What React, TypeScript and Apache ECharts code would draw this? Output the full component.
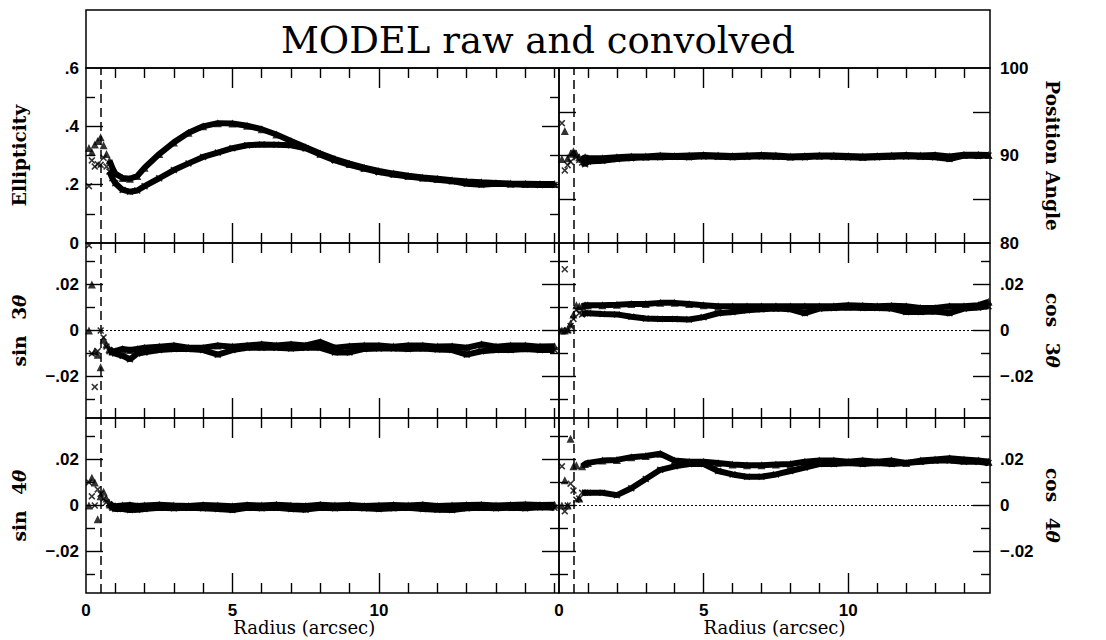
import React, { useEffect, useRef } from "react";
import * as echarts from "echarts";

// Isophote radii (arcsec) for the left and right columns
const RADIUS_LEFT = [
  0.1, 0.2, 0.3, 0.4, 0.5, 0.6, 0.7, 0.8, 0.9, 1.0, 1.25, 1.5, 1.75, 2.0,
  2.5, 3.0, 3.5, 4.0, 4.5, 5.0, 5.5, 6.0, 6.5, 7.0, 7.5, 8.0, 8.5, 9.0, 9.5,
  10.0, 10.5, 11.0, 11.5, 12.0, 12.5, 13.0, 13.5, 14.0, 14.5, 15.0, 15.5, 16.0,
];
const RADIUS_RIGHT = [
  0.1, 0.2, 0.3, 0.4, 0.5, 0.6, 0.7, 0.8, 0.9, 1.0, 1.5, 2.0, 2.5, 3.0, 3.5,
  4.0, 4.5, 5.0, 5.5, 6.0, 6.5, 7.0, 7.5, 8.0, 8.5, 9.0, 9.5, 10.0, 10.5, 11.0,
  11.5, 12.0, 12.5, 13.0, 13.5, 14.0, 14.5, 14.85,
];

// Ellipticity (raw = triangles, convolved = crosses)
const ELL_RAW = [
  0.326, 0.312, 0.338, 0.35, 0.363, 0.335, 0.305, 0.283, 0.258, 0.238, 0.223, 0.22, 0.23, 0.258,
  0.305, 0.345, 0.378, 0.4, 0.411, 0.41, 0.402, 0.39, 0.372, 0.35, 0.328, 0.307, 0.288, 0.272,
  0.258, 0.247, 0.238, 0.231, 0.225, 0.22, 0.215, 0.211, 0.208, 0.206, 0.204, 0.203, 0.202, 0.202,
];
const ELL_CONV = [
  0.195, 0.283, 0.262, 0.27, 0.268, 0.292, 0.262, 0.245, 0.222, 0.205, 0.182, 0.176, 0.18, 0.195,
  0.222, 0.25, 0.273, 0.295, 0.31, 0.325, 0.335, 0.338, 0.337, 0.335, 0.325, 0.303, 0.283, 0.268,
  0.255, 0.243, 0.235, 0.228, 0.222, 0.217, 0.212, 0.203, 0.2, 0.203, 0.201, 0.2, 0.199, 0.199,
];

// Position angle (degrees)
const PA_RAW = [
  89.6, 92.8, 89.7, 90.2, 90.5, 90.2, 89.8, 89.6, 89.8, 89.7, 89.7, 89.8, 89.9, 89.9, 90.0,
  89.95, 90.0, 90.05, 90.0, 89.95, 90.0, 90.05, 90.0, 89.9, 89.95, 90.0, 90.0, 89.95, 89.9,
  89.95, 90.0, 90.05, 90.0, 90.05, 89.9, 90.1, 90.1, 90.05,
];
const PA_CONV = [
  93.7, 88.3, 88.9, 89.3, 90.3, 89.8, 89.5, 89.2, 89.0, 89.3, 89.4, 89.6, 89.7, 89.8, 89.8,
  89.85, 89.8, 89.9, 89.85, 89.8, 89.85, 89.9, 89.85, 89.8, 89.8, 89.9, 89.85, 89.8, 89.75,
  89.8, 89.85, 89.9, 89.85, 89.8, 89.6, 90.0, 89.95, 90.0,
];

// Third-order harmonics
const S3_RAW = [
  0.0, 0.02, -0.009, -0.0105, -0.016, -0.004, -0.006, -0.008, -0.009, -0.009, -0.008, -0.0085,
  -0.008, -0.0075, -0.007, -0.0065, -0.0075, -0.0075, -0.0065, -0.007, -0.0065, -0.006, -0.0065,
  -0.006, -0.0065, -0.005, -0.0075, -0.0068, -0.0065, -0.0065, -0.007, -0.0065, -0.0065, -0.007,
  -0.0068, -0.0075, -0.006, -0.007, -0.0065, -0.0065, -0.007, -0.0068,
];
const S3_CONV = [
  0.037, -0.01, -0.0245, -0.009, 0.0, -0.003, -0.007, -0.009, -0.0095, -0.01, -0.011, -0.0125,
  -0.01, -0.0095, -0.0085, -0.008, -0.008, -0.0085, -0.0105, -0.0085, -0.0075, -0.0075, -0.0075,
  -0.0078, -0.0075, -0.0075, -0.0095, -0.0095, -0.008, -0.0078, -0.0078, -0.008, -0.0078, -0.0082,
  -0.0085, -0.0105, -0.009, -0.0085, -0.0085, -0.008, -0.0085, -0.0085,
];
const C3_RAW = [
  0.0, 0.0, 0.0005, 0.003, 0.007, 0.011, 0.0105, 0.0105, 0.011, 0.011, 0.011, 0.0112, 0.0115,
  0.0115, 0.012, 0.012, 0.0115, 0.011, 0.0105, 0.0105, 0.0105, 0.0105, 0.0105, 0.0105, 0.0105,
  0.0105, 0.0105, 0.011, 0.0108, 0.0105, 0.0108, 0.0105, 0.0098, 0.0098, 0.0105, 0.0105, 0.011,
  0.0125,
];
const C3_CONV = [
  0.0, 0.0266, 0.0, 0.002, 0.005, 0.009, 0.0075, 0.007, 0.0075, 0.0075, 0.0072, 0.007, 0.006,
  0.0052, 0.005, 0.005, 0.0048, 0.0058, 0.0075, 0.008, 0.0088, 0.0092, 0.0095, 0.0092, 0.0075,
  0.0095, 0.0098, 0.01, 0.0098, 0.0098, 0.0095, 0.008, 0.008, 0.0082, 0.0075, 0.0095, 0.01, 0.0105,
];

// Fourth-order harmonics
const S4_RAW = [
  0.0, 0.012, 0.01, -0.006, 0.004, 0.006, 0.003, 0.001, 0.0, -0.0003, 0.0, 0.0002, -0.0002, 0.0,
  0.0003, 0.0, -0.0002, 0.0002, 0.0, -0.0003, 0.0002, 0.0, 0.0003, 0.0, -0.0002, 0.0003, 0.0,
  0.0002, -0.0002, 0.0, 0.0002, 0.0, 0.0003, -0.0002, 0.0, 0.0002, 0.0003, 0.0, 0.0002, 0.0004,
  0.0002, 0.0003,
];
const S4_CONV = [
  0.01, 0.004, 0.0, 0.007, 0.005, 0.003, 0.0015, 0.0, -0.001, -0.0015, -0.0015, -0.002, -0.0018,
  -0.0015, -0.001, -0.0012, -0.001, -0.0012, -0.0015, -0.002, -0.001, -0.0012, -0.001, -0.0015,
  -0.0018, -0.001, -0.0012, -0.001, -0.0012, -0.0015, -0.0012, -0.001, -0.0015, -0.0018, -0.002,
  -0.0012, -0.001, -0.0012, -0.001, -0.0012, -0.0008, -0.001,
];
const C4_RAW = [
  0.0, 0.011, 0.0, 0.029, 0.017, 0.0175, 0.003, 0.017, 0.018, 0.0185, 0.0195, 0.0198, 0.021,
  0.0215, 0.0225, 0.0195, 0.019, 0.019, 0.0185, 0.0178, 0.0175, 0.0175, 0.0178, 0.018, 0.019,
  0.0195, 0.0195, 0.019, 0.0195, 0.019, 0.0195, 0.0185, 0.0195, 0.02, 0.0205, 0.02, 0.0195, 0.019,
];
const C4_CONV = [
  0.017, -0.0025, 0.0, 0.0095, 0.0065, 0.0025, 0.003, 0.0055, 0.0055, 0.0055, 0.0055, 0.0045,
  0.0075, 0.0115, 0.0155, 0.017, 0.018, 0.018, 0.015, 0.0135, 0.0125, 0.0125, 0.0135, 0.015,
  0.0165, 0.018, 0.018, 0.0185, 0.018, 0.0185, 0.018, 0.0185, 0.019, 0.0195, 0.0195, 0.019, 0.019,
  0.0185,
];

// Axis ranges and tick positions
const X_MAX_LEFT = 16.15;
const X_MAX_RIGHT = 14.9;
const X_LABELS = [0, 5, 10];
const X_MAJOR = [5, 10];
const X_MINOR = [1, 2, 3, 4, 6, 7, 8, 9, 11, 12, 13, 14, 15, 16];
const ELL_LABELS = [0, 0.2, 0.4, 0.6];
const ELL_MAJOR = [0.2, 0.4];
const ELL_MINOR = [0.1, 0.3, 0.5];
const PA_LABELS = [80, 90, 100];
const PA_MAJOR = [85, 90, 95];
const HARM_RANGE = 0.038;
const HARM_LABELS = [-0.02, 0, 0.02];
const HARM_MAJOR = [-0.02, 0, 0.02];
const HARM_MINOR = [-0.03, -0.01, 0.01, 0.03];
const PSF_RADIUS = 0.5; // dashed seeing marker
const BAND_START = 0.8; // radius from which points are joined into a band

// Frame layout (px)
const COL_X = [86, 559, 990];
const ROW_Y = [68, 243, 418, 593];
const TITLE_TOP = 10;
const NAME_AT_RADIUS = 7.45;

const SERIF = '"DejaVu Serif", serif';
const SANS = '"Liberation Sans", Arial, sans-serif';

const CROSS =
  "path://M0,1.6L1.6,0L5,3.4L8.4,0L10,1.6L6.6,5L10,8.4L8.4,10L5,6.6L1.6,10L0,8.4L3.4,5Z";

type Panel = {
  col: number;
  row: number;
  radius: number[];
  raw: number[];
  conv: number[];
  yMin: number;
  yMax: number;
  labels: number[];
  major: number[];
  minor: number[];
  name: string;
  zeroLine: boolean;
};

const theta = "{t|\u03b8}";
const PANELS: Panel[] = [
  { col: 0, row: 0, radius: RADIUS_LEFT, raw: ELL_RAW, conv: ELL_CONV, yMin: 0, yMax: 0.6,
    labels: ELL_LABELS, major: ELL_MAJOR, minor: ELL_MINOR, name: "Ellipticity", zeroLine: false },
  { col: 1, row: 0, radius: RADIUS_RIGHT, raw: PA_RAW, conv: PA_CONV, yMin: 80, yMax: 100,
    labels: PA_LABELS, major: PA_MAJOR, minor: [], name: "Position Angle", zeroLine: false },
  { col: 0, row: 1, radius: RADIUS_LEFT, raw: S3_RAW, conv: S3_CONV, yMin: -HARM_RANGE, yMax: HARM_RANGE,
    labels: HARM_LABELS, major: HARM_MAJOR, minor: HARM_MINOR, name: "sin\u2002 3" + theta, zeroLine: true },
  { col: 1, row: 1, radius: RADIUS_RIGHT, raw: C3_RAW, conv: C3_CONV, yMin: -HARM_RANGE, yMax: HARM_RANGE,
    labels: HARM_LABELS, major: HARM_MAJOR, minor: HARM_MINOR, name: "cos\u2002 3" + theta, zeroLine: true },
  { col: 0, row: 2, radius: RADIUS_LEFT, raw: S4_RAW, conv: S4_CONV, yMin: -HARM_RANGE, yMax: HARM_RANGE,
    labels: HARM_LABELS, major: HARM_MAJOR, minor: HARM_MINOR, name: "sin\u2002 4" + theta, zeroLine: true },
  { col: 1, row: 2, radius: RADIUS_RIGHT, raw: C4_RAW, conv: C4_CONV, yMin: -HARM_RANGE, yMax: HARM_RANGE,
    labels: HARM_LABELS, major: HARM_MAJOR, minor: HARM_MINOR, name: "cos\u2002 4" + theta, zeroLine: true },
];

function fmt(v: number): string {
  if (Math.abs(v) < 1e-9) return "0";
  const s = String(Math.abs(v)).replace(/^0\./, ".");
  return (v < 0 ? "\u2212" : "") + s;
}

const tickLine = { color: "#000", width: 1.4 };
const tickLabel = { color: "#000", fontFamily: SANS, fontSize: 17, fontWeight: "bold" as const };

function buildOption() {
  const grid: any[] = [];
  const xAxis: any[] = [];
  const yAxis: any[] = [];
  const series: any[] = [];
  const graphic: any[] = [];

  PANELS.forEach((p, i) => {
    const left = COL_X[p.col];
    const width = COL_X[p.col + 1] - left;
    const top = ROW_Y[p.row];
    const height = ROW_Y[p.row + 1] - top;
    const xMax = p.col === 0 ? X_MAX_LEFT : X_MAX_RIGHT;
    grid.push({ left, top, width, height, show: true, borderColor: "#000", borderWidth: 1.5, backgroundColor: "transparent" });

    const bottomRow = p.row === 2;
    const xDef = (position: string, ticks: number[], length: number, labels: boolean) => ({
      type: "value", gridIndex: i, position, min: 0, max: xMax,
      axisLine: { show: false, onZero: false },
      splitLine: { show: false },
      axisTick: { show: true, inside: true, length, customValues: ticks, lineStyle: tickLine },
      axisLabel: labels
        ? { show: true, customValues: X_LABELS, formatter: fmt, margin: 9, ...tickLabel }
        : { show: false },
    });
    xAxis.push(xDef("bottom", X_MAJOR, 20, bottomRow));
    xAxis.push(xDef("bottom", X_MINOR, 10, false));
    xAxis.push(xDef("top", X_MAJOR, 20, false));
    xAxis.push(xDef("top", X_MINOR, 10, false));

    const nameStyle = {
      fontFamily: SERIF, fontSize: 18.5, fontWeight: "bold", color: "#000",
      rich: { t: { fontFamily: SERIF, fontSize: 18.5, fontWeight: "bold", fontStyle: "italic", color: "#000" } },
    };
    const yDef = (position: string, ticks: number[], length: number, withText: boolean) => ({
      type: "value", gridIndex: i, position, min: p.yMin, max: p.yMax,
      axisLine: { show: false, onZero: false },
      splitLine: { show: false },
      axisTick: { show: ticks.length > 0, inside: true, length, customValues: ticks, lineStyle: tickLine },
      axisLabel: withText
        ? { show: true, customValues: p.labels, formatter: fmt, margin: position === "left" ? 7 : 10, ...tickLabel }
        : { show: false },
      name: withText ? p.name : "",
      nameLocation: "middle",
      nameRotate: position === "left" ? 90 : -90,
      nameGap: position === "left" ? 57 : 53,
      nameTextStyle: nameStyle,
    });
    const leftText = p.col === 0;
    yAxis.push(yDef("left", p.major, 17, leftText));
    yAxis.push(yDef("left", p.minor, 9, false));
    yAxis.push(yDef("right", p.major, 17, !leftText));
    yAxis.push(yDef("right", p.minor, 9, false));

    const ax = { xAxisIndex: i * 4, yAxisIndex: i * 4 };
    const guide: any[] = [
      { xAxis: PSF_RADIUS, lineStyle: { type: [9, 5], width: 1.5, color: "#000" } },
    ];
    if (p.zeroLine) guide.push({ yAxis: 0, lineStyle: { type: [2, 2], width: 1, color: "#000" } });
    series.push({
      type: "line", ...ax, data: [], z: 1, silent: true,
      markLine: { silent: true, symbol: ["none", "none"], label: { show: false }, data: guide },
    });

    const pairs = (vals: number[]) => p.radius.map((r, k) => [r, vals[k]]);
    const band = (vals: number[]) => pairs(vals).filter(([r]) => r >= BAND_START);
    [
      { name: "raw", vals: p.raw, symbol: "triangle", size: 8 },
      { name: "convolved", vals: p.conv, symbol: CROSS, size: 7 },
    ].forEach((s) => {
      series.push({
        type: "line", name: s.name, ...ax, data: band(s.vals), symbol: "none", z: 2,
        lineStyle: { color: "#000", width: 6 }, silent: true,
      });
      series.push({
        type: "scatter", name: s.name, ...ax, data: pairs(s.vals), symbol: s.symbol,
        symbolSize: s.size, itemStyle: { color: "#000" }, z: 3, silent: true,
      });
    });

    if (bottomRow) {
      graphic.push({
        type: "text",
        x: left + (NAME_AT_RADIUS / xMax) * width,
        y: 627,
        style: {
          text: "Radius (arcsec)", fontFamily: SERIF, fontSize: 18, fill: "#000",
          align: "center", verticalAlign: "middle",
        },
      });
    }
  });

  // Title box above the panels
  graphic.push({
    type: "rect",
    shape: { x: COL_X[0], y: TITLE_TOP, width: COL_X[2] - COL_X[0], height: ROW_Y[0] - TITLE_TOP },
    style: { fill: "none", stroke: "#000", lineWidth: 1.5 },
  });
  graphic.push({
    type: "text",
    x: (COL_X[0] + COL_X[2]) / 2,
    y: (TITLE_TOP + ROW_Y[0]) / 2 + 1,
    style: {
      text: "MODEL raw and convolved", fontFamily: SERIF, fontSize: 37, fontWeight: "normal",
      fill: "#000", align: "center", verticalAlign: "middle",
    },
  });

  return { animation: false, backgroundColor: "#fff", grid, xAxis, yAxis, series, graphic };
}

export default function App() {
  const ref = useRef<HTMLDivElement>(null);
  useEffect(() => {
    if (!ref.current) return;
    const chart = echarts.init(ref.current, undefined, { renderer: "svg" });
    chart.setOption(buildOption() as any);
    return () => chart.dispose();
  }, []);
  return (
    <div
      ref={ref}
      style={{ position: "absolute", left: 0, top: 0, width: 1106, height: 640, background: "#fff" }}
    />
  );
}
